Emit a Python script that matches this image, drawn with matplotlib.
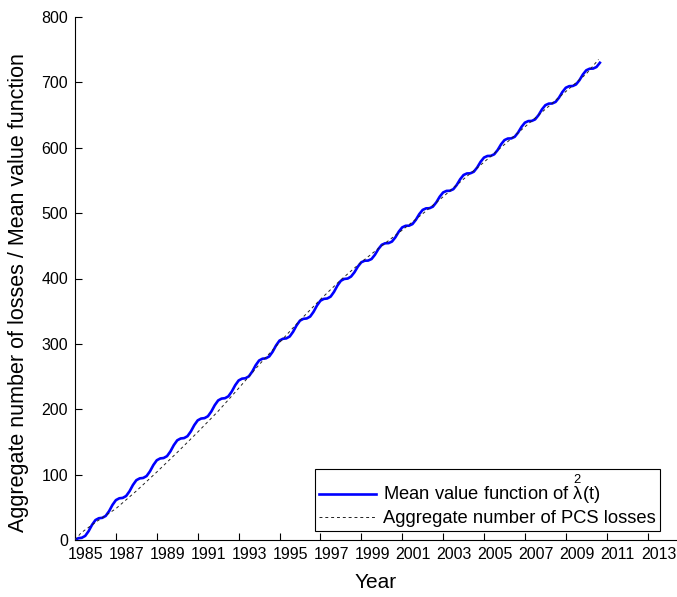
import numpy as np
import matplotlib
matplotlib.use("Agg")
import matplotlib.pyplot as plt
from matplotlib.transforms import ScaledTranslation

plt.rcParams['font.family'] = ['Liberation Sans', 'DejaVu Sans']
plt.rcParams['mathtext.fontset'] = 'custom'
plt.rcParams['mathtext.rm'] = 'Liberation Sans'
plt.rcParams['mathtext.it'] = 'Liberation Sans'

# Mean value function, sampled every two months from 1985.0
mean_value = [
    0.0, 2.8, 3.4, 6.3, 13.6, 23.2,
    30.5, 33.3, 33.9, 36.8, 44.1, 53.7,
    61.0, 63.8, 64.4, 67.3, 74.6, 84.2,
    91.5, 94.3, 94.9, 97.8, 105.1, 114.7,
    122.0, 124.8, 125.4, 128.3, 135.6, 145.2,
    152.5, 155.3, 155.9, 158.8, 166.1, 175.7,
    183.0, 185.8, 186.4, 189.3, 196.6, 206.2,
    213.5, 216.3, 216.9, 219.8, 227.1, 236.7,
    244.0, 246.8, 247.4, 250.3, 257.6, 267.2,
    274.5, 277.3, 277.9, 280.8, 288.1, 297.7,
    305.0, 307.8, 308.4, 311.3, 318.6, 328.2,
    335.5, 338.3, 338.9, 341.8, 349.1, 358.7,
    366.0, 368.8, 369.4, 372.3, 379.6, 389.2,
    396.5, 399.3, 399.9, 403.0, 409.6, 418.3,
    424.8, 427.2, 427.4, 429.8, 436.3, 445.0,
    451.5, 453.9, 454.1, 456.5, 463.0, 471.7,
    478.2, 480.6, 480.8, 483.2, 489.7, 498.4,
    504.9, 507.3, 507.5, 509.9, 516.4, 525.1,
    531.6, 534.0, 534.2, 536.6, 543.1, 551.8,
    558.3, 560.7, 560.9, 563.3, 569.8, 578.5,
    585.0, 587.4, 587.6, 590.0, 596.5, 605.2,
    611.7, 614.1, 614.3, 616.7, 623.2, 631.9,
    638.4, 640.8, 641.0, 643.4, 649.9, 658.6,
    665.1, 667.5, 667.7, 670.1, 676.6, 685.3,
    691.8, 694.2, 694.4, 696.8, 703.3, 712.0,
    718.5, 720.9, 721.1, 723.5, 730.0,
]
mean_years = 1985 + np.arange(len(mean_value)) / 6.0

# Aggregate number of PCS losses
loss_years = [1985.0, 1985.3, 1986.0, 1987.0, 1988.0, 1989.0, 1990.0, 1991.0,
              1992.0, 1993.0, 1994.0, 1995.0, 1996.0, 1997.0, 1998.0, 1999.0,
              2000.0, 2001.0, 2002.0, 2003.0, 2004.0, 2005.0, 2006.0, 2007.0,
              2008.0, 2009.0, 2010.0, 2010.6]
loss_count = [0, 11, 27, 48, 75, 104, 134, 165,
              197, 232, 268, 302, 336, 368, 398, 425,
              450, 474, 499, 525, 552, 578, 605, 632,
              659, 686, 713, 735]

tick_years = list(range(1985, 2014, 2))
y_ticks = list(range(0, 801, 100))

fig = plt.figure(figsize=(6.77, 5.97), dpi=100)
ax = fig.add_axes([75 / 677, 57 / 597, 602 / 677, 523 / 597])

ax.plot(mean_years, mean_value, color='#0000ff', lw=1.9,
        label=r'Mean value function of $\overset{2}{\lambda}$(t)', zorder=3)
ax.plot(loss_years, loss_count, color='#222222', lw=0.7, ls=(0, (3, 3)),
        label='Aggregate number of PCS losses', zorder=4)

ax.set_xlim(1985, 1985 + 602 / 20.45)
ax.set_ylim(0, 800)
ax.set_xticks(tick_years)
ax.set_xticklabels([str(y) for y in tick_years])
ax.set_yticks(y_ticks)
ax.tick_params(direction='in', length=5, width=0.8, labelsize=11.5, colors='black')
ax.tick_params(axis='x', pad=5)
ax.tick_params(axis='y', pad=5)

shift = ScaledTranslation(11 / 100, 0, fig.dpi_scale_trans)
for lbl in ax.get_xticklabels():
    lbl.set_transform(lbl.get_transform() + shift)

for side in ('top', 'right'):
    ax.spines[side].set_visible(False)
for side in ('left', 'bottom'):
    ax.spines[side].set_linewidth(0.8)

ax.set_xlabel('Year', fontsize=15, labelpad=8)
ax.set_ylabel('Aggregate number of losses / Mean value function', fontsize=15.5)
ax.yaxis.set_label_coords(-0.0765, 0.474)

leg = ax.legend(loc='lower right', bbox_to_anchor=(660 / 677, 66 / 597),
                bbox_transform=fig.transFigure, fontsize=13.2, frameon=True,
                fancybox=False, framealpha=1, edgecolor='black',
                handlelength=3.1, borderpad=0.22, labelspacing=0.2,
                handletextpad=0.4, borderaxespad=0)
leg.get_frame().set_linewidth(0.8)

fig.savefig('out.png', dpi=100)
